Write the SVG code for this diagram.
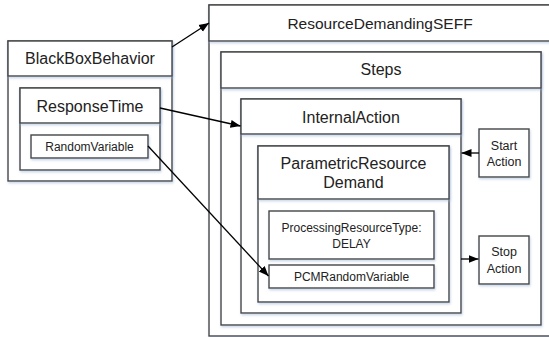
<svg xmlns="http://www.w3.org/2000/svg" width="549" height="337" viewBox="0 0 549 337">
<defs>
<filter id="sh" x="-10%" y="-10%" width="120%" height="130%">
<feDropShadow dx="0.8" dy="1.6" stdDeviation="1.2" flood-color="#9fb4d6" flood-opacity="0.55"/>
</filter>
<marker id="ah" viewBox="0 0 10 10" refX="10" refY="5" markerWidth="10" markerHeight="10" markerUnits="userSpaceOnUse" orient="auto">
<path d="M0,1 L10,5 L0,9 Z" fill="#000"/>
</marker>
</defs>
<style>
.b{fill:#fff;stroke:#454545;stroke-width:1.4;filter:url(#sh)}
.t{font-family:"Liberation Sans",Arial,sans-serif;fill:#222;text-anchor:middle}
.l{font-size:16px}
.s{font-size:12px}
.c{fill:none;stroke:#000;stroke-width:1.3;marker-end:url(#ah)}
</style>
<rect width="549" height="337" fill="#fff"/>
<g id="BlackBoxBehavior">
<rect class="b" x="8" y="41" width="164" height="140"/>
<rect class="b" x="8" y="41" width="164" height="35"/>
<text class="t l" x="90" y="64">BlackBoxBehavior</text>
</g>
<g id="ResponseTime">
<rect class="b" x="20" y="88" width="140" height="82"/>
<rect class="b" x="20" y="88" width="140" height="35"/>
<text class="t l" x="90" y="112">ResponseTime</text>
</g>
<g id="RandomVariable">
<rect class="b" x="31" y="135" width="117" height="23"/>
<text class="t s" x="89.5" y="151">RandomVariable</text>
</g>
<g id="ResourceDemandingSEFF">
<rect class="b" x="209" y="5" width="345" height="331"/>
<rect class="b" x="209" y="5" width="345" height="36"/>
<text class="t l" x="380" y="29" font-size="15.5" style="font-size:15.5px">ResourceDemandingSEFF</text>
</g>
<g id="Steps">
<rect class="b" x="221" y="52" width="320" height="273"/>
<rect class="b" x="221" y="52" width="320" height="36"/>
<text class="t l" x="381" y="75">Steps</text>
</g>
<g id="InternalAction">
<rect class="b" x="241" y="99" width="220" height="214"/>
<rect class="b" x="241" y="99" width="220" height="35"/>
<text class="t l" x="351" y="123">InternalAction</text>
</g>
<g id="ParametricResourceDemand">
<rect class="b" x="258" y="146" width="191" height="156"/>
<rect class="b" x="258" y="146" width="191" height="53"/>
<text class="t l" x="353.5" y="169">ParametricResource</text>
<text class="t l" x="353.5" y="188">Demand</text>
</g>
<g id="ProcessingResourceType">
<rect class="b" x="269" y="211" width="165" height="48"/>
<text class="t s" x="351.5" y="232">ProcessingResourceType:</text>
<text class="t s" x="351.5" y="248">DELAY</text>
</g>
<g id="PCMRandomVariable">
<rect class="b" x="269" y="265" width="165" height="23"/>
<text class="t s" x="351.5" y="281">PCMRandomVariable</text>
</g>
<g id="StartAction">
<rect class="b" x="479" y="129" width="50" height="48"/>
<text class="t s" x="504" y="150" style="font-size:12.5px">Start</text>
<text class="t s" x="504" y="166" style="font-size:12.5px">Action</text>
</g>
<g id="StopAction">
<rect class="b" x="479" y="236" width="50" height="48"/>
<text class="t s" x="504" y="256" style="font-size:12.5px">Stop</text>
<text class="t s" x="504" y="273" style="font-size:12.5px">Action</text>
</g>
<g id="connectors">
<line class="c" x1="172" y1="47" x2="209" y2="23"/>
<line class="c" x1="160" y1="108" x2="240.5" y2="126"/>
<line class="c" x1="148" y1="146" x2="268.5" y2="276"/>
<line class="c" x1="479" y1="153" x2="461.5" y2="153"/>
<line class="c" x1="461" y1="259" x2="478.5" y2="259"/>
</g>
</svg>
